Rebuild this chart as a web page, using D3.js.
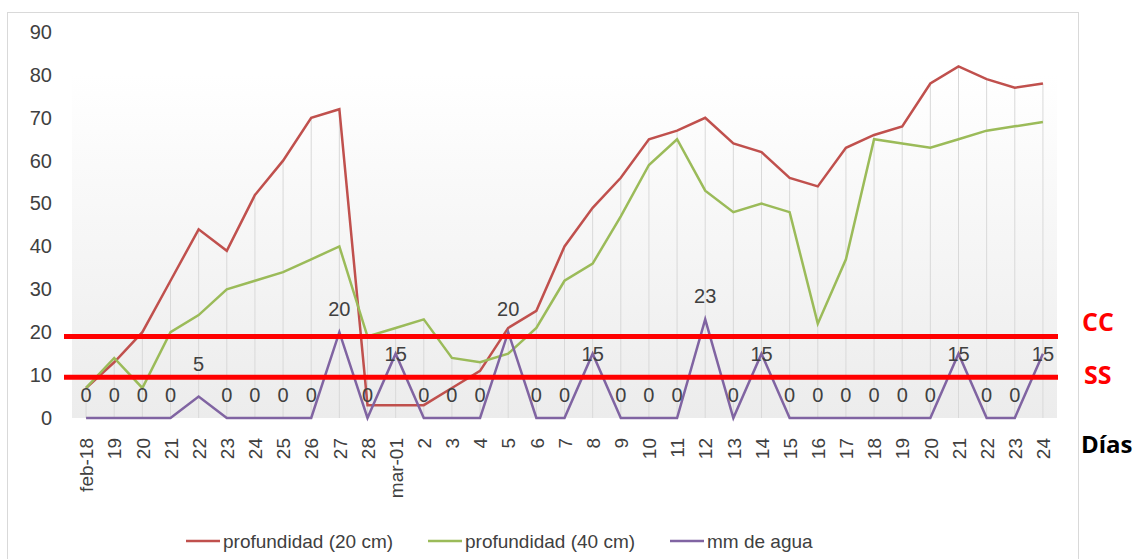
<!DOCTYPE html>
<html>
<head>
<meta charset="utf-8">
<script src="https://cdn.jsdelivr.net/npm/d3@7"></script>
<style>
	body { margin: 0; background: #ffffff; }
	svg text { font-family: "Liberation Sans", Arial, sans-serif; }
</style>
</head>
<body>
<script>
'use strict';

// Days shown on the x axis (feb-18 .. mar-24); march days that repeat a
// february label carry a "b" suffix so the point scale keeps them apart.
const days = ["feb-18", "19", "20", "21", "22", "23", "24", "25", "26", "27", "28",
	"mar-01", "2", "3", "4", "5", "6", "7", "8", "9", "10", "11", "12", "13", "14",
	"15", "16", "17", "18", "19b", "20b", "21b", "22b", "23b", "24b"];

const prof20 = [7, 13, 20, 32, 44, 39, 52, 60, 70, 72, 3, 3, 3, 7, 11, 21, 25, 40, 49, 56,
	65, 67, 70, 64, 62, 56, 54, 63, 66, 68, 78, 82, 79, 77, 78];

const prof40 = [7, 14, 7, 20, 24, 30, 32, 34, 37, 40, 19, 21, 23, 14, 13, 15, 21, 32, 36, 47,
	59, 65, 53, 48, 50, 48, 22, 37, 65, 64, 63, 65, 67, 68, 69];

const mmAgua = [0, 0, 0, 0, 5, 0, 0, 0, 0, 20, 0, 15, 0, 0, 0, 20, 0, 0, 15, 0,
	0, 0, 23, 0, 15, 0, 0, 0, 0, 0, 0, 15, 0, 0, 15];

const yTicks = [0, 10, 20, 30, 40, 50, 60, 70, 80, 90];

// Reference levels drawn over the chart
const ccLevel = 19;
const ssLevel = 9.5;

const seriesNames = ["profundidad (20 cm)", "profundidad (40 cm)", "mm de agua"];
const seriesColors = ["#c0504d", "#9bbb59", "#8064a2"];

const width = 1143, height = 559;
const plotLeft = 72, plotRight = 1057, plotTop = 32, plotBottom = 418;

let svg = d3.select("body").append("svg")
	.attr("width", width)
	.attr("height", height);

// Chart frame
svg.append("rect")
	.attr("x", 7.5).attr("y", 12.5)
	.attr("width", 1071).attr("height", 600)
	.attr("fill", "#ffffff")
	.attr("stroke", "#d9d9d9");

let x = d3.scalePoint()
	.domain(days)
	.range([plotLeft, plotRight])
	.padding(0.5);

let y = d3.scaleLinear()
	.domain([0, 90])
	.range([plotBottom, plotTop]);

// Plot area background gradient
let defs = svg.append("defs");
let grad = defs.append("linearGradient")
	.attr("id", "bg")
	.attr("x1", 0).attr("y1", 0).attr("x2", 0).attr("y2", 1);
grad.append("stop").attr("offset", "0%").attr("stop-color", "#ffffff");
grad.append("stop").attr("offset", "100%").attr("stop-color", "#ececec");

svg.append("rect")
	.attr("x", plotLeft).attr("y", y(80))
	.attr("width", plotRight - plotLeft)
	.attr("height", y(0) - y(80))
	.attr("fill", "url(#bg)");

// Drop lines from the highest point to the axis
svg.append("g")
	.selectAll("line")
	.data(days)
	.enter()
	.append("line")
	.attr("x1", d => x(d)).attr("x2", d => x(d))
	.attr("y1", (d, i) => y(Math.max(prof20[i], prof40[i], mmAgua[i])))
	.attr("y2", y(0))
	.attr("stroke", "#d9d9d9")
	.attr("stroke-width", 1);

// Y axis
let yAxis = svg.append("g")
	.attr("transform", "translate(" + plotLeft + ",0)")
	.call(d3.axisLeft(y).tickValues(yTicks).tickSize(0).tickPadding(20));
yAxis.select(".domain").remove();
yAxis.selectAll("text")
	.attr("fill", "#404040")
	.style("font-size", "20px")
	.style("font-family", "Liberation Sans, Arial, sans-serif");

// X axis
let xAxis = svg.append("g")
	.attr("transform", "translate(0," + plotBottom + ")")
	.call(d3.axisBottom(x).tickSize(0).tickFormat(d => d.replace(/b$/, "")));
xAxis.select(".domain").remove();
xAxis.selectAll("text")
	.attr("transform", "rotate(-90)")
	.attr("x", -20)
	.attr("y", 0)
	.attr("dy", "0.35em")
	.attr("fill", "#404040")
	.style("text-anchor", "end")
	.style("font-size", "19px")
	.style("font-family", "Liberation Sans, Arial, sans-serif");

// Series lines
let line = d3.line()
	.x((d, i) => x(days[i]))
	.y(d => y(d));

[prof20, prof40, mmAgua].forEach(function(series, k) {
	svg.append("path")
		.datum(series)
		.attr("d", line)
		.attr("fill", "none")
		.attr("stroke", seriesColors[k])
		.attr("stroke-width", 2.5)
		.attr("stroke-linejoin", "miter");
});

// Data labels for mm de agua
svg.append("g")
	.selectAll("text")
	.data(mmAgua)
	.enter()
	.append("text")
	.attr("x", (d, i) => x(days[i]))
	.attr("y", d => y(d) + (d === 15 ? 0 : (d === 5 ? -33 : -23)))
	.attr("dy", "0.35em")
	.attr("text-anchor", "middle")
	.attr("fill", "#404040")
	.style("font-size", "20px")
	.text(d => d);

// CC / SS reference lines
[ccLevel, ssLevel].forEach(function(level) {
	svg.append("line")
		.attr("x1", plotLeft - 8).attr("x2", plotRight + 1)
		.attr("y1", y(level)).attr("y2", y(level))
		.attr("stroke", "#ff0000")
		.attr("stroke-width", 5);
});

svg.append("text")
	.attr("x", 1082).attr("y", y(ccLevel) - 14)
	.attr("dy", "0.35em")
	.attr("fill", "#ff0000")
	.style("font-family", "Open Sans, sans-serif")
	.style("font-weight", "bold")
	.style("font-size", "25px")
	.text("CC");

svg.append("text")
	.attr("x", 1084).attr("y", y(ssLevel) - 2)
	.attr("dy", "0.35em")
	.attr("fill", "#ff0000")
	.style("font-family", "Open Sans, sans-serif")
	.style("font-weight", "bold")
	.style("font-size", "25px")
	.text("SS");

svg.append("text")
	.attr("x", 1081).attr("y", 445)
	.attr("dy", "0.35em")
	.attr("fill", "#000000")
	.style("font-family", "Open Sans, sans-serif")
	.style("font-weight", "bold")
	.style("font-size", "24px")
	.text("Días");

// Legend
let legendX = [186, 428, 670];
let legend = svg.append("g")
	.selectAll("g")
	.data(seriesNames)
	.enter()
	.append("g")
	.attr("transform", (d, i) => "translate(" + legendX[i] + ",541)");
legend.append("line")
	.attr("x1", 0).attr("x2", 34)
	.attr("stroke", (d, i) => seriesColors[i])
	.attr("stroke-width", 2.5);
legend.append("text")
	.attr("x", 37)
	.attr("dy", "0.35em")
	.attr("fill", "#404040")
	.style("font-size", "19px")
	.text(d => d);
</script>
</body>
</html>
